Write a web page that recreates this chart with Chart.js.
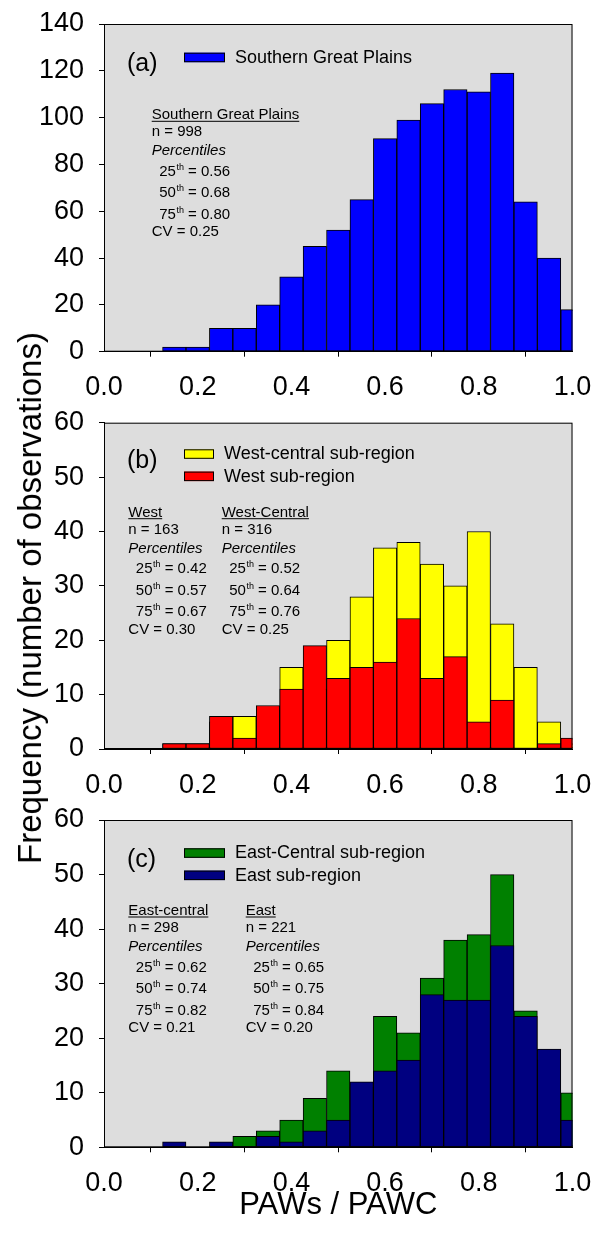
<!DOCTYPE html>
<html>
<head>
<meta charset="utf-8">
<script src="https://cdn.jsdelivr.net/npm/chart.js@4/dist/chart.umd.min.js"></script>
<style>
  body { margin: 0; background: #fff; }
  #page { position: relative; width: 594px; height: 1241px; }
  canvas { position: absolute; left: 0; }
  #ytitle {
    position: absolute; left: 30px; top: 598px;
    transform: translate(-50%, -50%) rotate(-90deg);
    white-space: nowrap; font: 33px "Liberation Sans", Arial, sans-serif; color: #000;
  }
</style>
</head>
<body>
<div id="page">
  <canvas id="panelA" width="594" height="400" style="top:0"></canvas>
  <canvas id="panelB" width="594" height="400" style="top:400px"></canvas>
  <canvas id="panelC" width="594" height="441" style="top:800px"></canvas>
  <div id="ytitle">Frequency (number of observations)</div>
</div>
<script>
// bin centres (PAWs / PAWC), bin width 0.05
const binCenters = [0.15, 0.20, 0.25, 0.30, 0.35, 0.40, 0.45, 0.50, 0.55, 0.60, 0.65, 0.70, 0.75, 0.80, 0.85, 0.90, 0.95, 1.00];

const southernGreatPlains = [2, 2, 10, 10, 20, 32, 45, 52, 65, 91, 99, 106, 112, 111, 119, 64, 40, 18];
const westCentral = [1, 1, 5, 6, 6, 15, 11, 20, 28, 37, 38, 34, 30, 40, 23, 15, 5, 1];
const west = [1, 1, 6, 2, 8, 11, 19, 13, 15, 16, 24, 13, 17, 5, 9, 0, 1, 2];
const eastCentral = [0, 0, 0, 2, 3, 5, 9, 14, 11, 24, 21, 31, 38, 39, 50, 25, 16, 10];
const east = [1, 0, 1, 0, 2, 1, 3, 5, 12, 14, 16, 28, 27, 27, 37, 24, 18, 5];

const statsSGP = ['Southern Great Plains', '998', ['25', '0.56'], ['50', '0.68'], ['75', '0.80'], '0.25'];
const statsWest = ['West', '163', ['25', '0.42'], ['50', '0.57'], ['75', '0.67'], '0.30'];
const statsWestCentral = ['West-Central', '316', ['25', '0.52'], ['50', '0.64'], ['75', '0.76'], '0.25'];
const statsEastCentral = ['East-central', '298', ['25', '0.62'], ['50', '0.74'], ['75', '0.82'], '0.21'];
const statsEast = ['East', '221', ['25', '0.65'], ['50', '0.75'], ['75', '0.84'], '0.20'];

const FONT = '"Liberation Sans", Arial, sans-serif';
const lineOffsets = [0, 17, 36, 56.5, 78, 99.5, 117];

function toPoints(values) {
    return binCenters.map((x, i) => ({x: x, y: values[i]}));
}

function drawStats(ctx, x, y, s) {
    ctx.fillStyle = '#000';
    ctx.textAlign = 'left';
    ctx.textBaseline = 'alphabetic';
    ctx.font = '15px ' + FONT;
    ctx.fillText(s[0], x, y);
    let w = ctx.measureText(s[0]).width;
    ctx.fillRect(x, y + 1.5, w, 1);
    ctx.fillText('n = ' + s[1], x, y + lineOffsets[1]);
    ctx.font = 'italic 15px ' + FONT;
    ctx.fillText('Percentiles', x, y + lineOffsets[2]);
    for (let k = 0; k < 3; k++) {
        let yy = y + lineOffsets[3 + k];
        let xx = x + 7.5;
        ctx.font = '15px ' + FONT;
        ctx.fillText(s[2 + k][0], xx, yy);
        xx += ctx.measureText(s[2 + k][0]).width + 0.5;
        ctx.font = '9px ' + FONT;
        ctx.fillText('th', xx, yy - 6);
        xx += ctx.measureText('th').width;
        ctx.font = '15px ' + FONT;
        ctx.fillText(' = ' + s[2 + k][1], xx, yy);
    }
    ctx.fillText('CV = ' + s[5], x, y + lineOffsets[6]);
}

const panelDecor = {
    id: 'panelDecor',
    beforeDraw(chart) {
        const {ctx, chartArea: a} = chart;
        ctx.save();
        ctx.fillStyle = '#dddddd';
        ctx.fillRect(a.left, a.top, a.right - a.left, a.bottom - a.top);
        ctx.restore();
    },
    afterDatasetsDraw(chart, args, opts) {
        const {ctx, chartArea: a} = chart;
        ctx.save();
        ctx.strokeStyle = '#000';
        ctx.lineWidth = 1;
        ctx.strokeRect(a.left + 0.5, a.top + 0.5, a.right - a.left - 1, a.bottom - a.top - 1);

        // panel letter
        ctx.fillStyle = '#000';
        ctx.font = '25px ' + FONT;
        ctx.textBaseline = 'middle';
        ctx.fillText(opts.letter, 127, a.top + opts.letterY);

        // legend
        chart.data.datasets.forEach((ds, i) => {
            let ry = a.top + opts.legendY + i * 22.3;
            ctx.fillStyle = ds.backgroundColor;
            ctx.fillRect(184, ry, opts.boxW, 9.5);
            ctx.strokeStyle = '#000';
            ctx.strokeRect(184.5, ry + 0.5, opts.boxW - 1, 8.5);
            ctx.fillStyle = '#000';
            ctx.font = '18px ' + FONT;
            ctx.textBaseline = 'middle';
            ctx.fillText(ds.label, 184 + opts.boxW + 10, ry + 5);
        });

        // statistics text
        opts.stats.forEach(col => drawStats(ctx, col.x, a.top + opts.statsY, col.s));
        ctx.restore();
    }
};

function makePanel(id, datasets, yMax, yStep, plotTop, plotBottom, canvasH, decor, withTitle) {
    return new Chart(document.getElementById(id), {
        type: 'bar',
        data: {datasets: datasets},
        options: {
            responsive: false,
            animation: false,
            layout: {padding: {top: plotTop, right: 21.5, left: 0, bottom: 0}},
            datasets: {
                bar: {
                    grouped: false,
                    barPercentage: 1,
                    categoryPercentage: 1,
                    borderWidth: 1,
                    borderColor: '#000',
                    borderSkipped: false,
                    clip: 0
                }
            },
            plugins: {
                legend: {display: false},
                tooltip: {enabled: false},
                panelDecor: decor
            },
            scales: {
                x: {
                    type: 'linear',
                    min: 0,
                    max: 1,
                    offset: false,
                    ticks: {
                        stepSize: 0.2,
                        color: '#000',
                        font: {family: FONT, size: 27},
                        padding: 15,
                        maxRotation: 0,
                        callback: v => v.toFixed(1)
                    },
                    grid: {drawOnChartArea: false, color: '#000', tickLength: 5},
                    border: {color: '#000'},
                    title: {
                        display: withTitle,
                        text: 'PAWs / PAWC',
                        color: '#000',
                        font: {family: FONT, size: 31},
                        padding: {top: 0, bottom: 17}
                    },
                    afterFit(scale) {
                        scale.height = canvasH - plotBottom;
                        scale.paddingLeft = 0;
                        scale.paddingRight = 0;
                    }
                },
                y: {
                    min: 0,
                    max: yMax,
                    ticks: {
                        stepSize: yStep,
                        color: '#000',
                        font: {family: FONT, size: 27},
                        padding: 15
                    },
                    grid: {drawOnChartArea: false, color: '#000', tickLength: 5},
                    border: {color: '#000'},
                    afterFit(scale) {
                        scale.width = 104;
                        scale.paddingTop = 0;
                        scale.paddingBottom = 0;
                    }
                }
            }
        },
        plugins: [panelDecor]
    });
}

makePanel('panelA', [
    {label: 'Southern Great Plains', data: toPoints(southernGreatPlains), backgroundColor: '#0000ff'}
], 140, 20, 24, 351.7, 400, {
    letter: '(a)', letterY: 40.5, legendY: 28.7, boxW: 41, statsY: 95.3,
    stats: [{x: 151.7, s: statsSGP}]
}, false);

makePanel('panelB', [
    {label: 'West-central sub-region', data: toPoints(westCentral), backgroundColor: '#ffff00', order: 2},
    {label: 'West sub-region', data: toPoints(west), backgroundColor: '#ff0000', order: 1}
], 60, 10, 22.7, 349, 400, {
    letter: '(b)', letterY: 38.5, legendY: 26.6, boxW: 30, statsY: 94,
    stats: [{x: 128.3, s: statsWest}, {x: 221.7, s: statsWestCentral}]
}, false);

makePanel('panelC', [
    {label: 'East-Central sub-region', data: toPoints(eastCentral), backgroundColor: '#008000', order: 2},
    {label: 'East sub-region', data: toPoints(east), backgroundColor: '#000080', order: 1}
], 60, 10, 20, 347.3, 441, {
    letter: '(c)', letterY: 40, legendY: 28.3, boxW: 41, statsY: 95,
    stats: [{x: 128.3, s: statsEastCentral}, {x: 245.7, s: statsEast}]
}, true);
</script>
</body>
</html>
